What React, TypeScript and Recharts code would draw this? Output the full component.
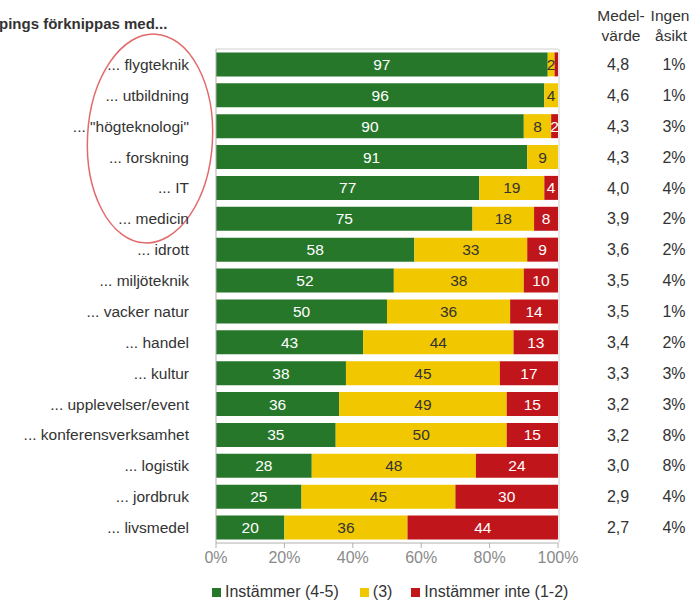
import React from 'react';
import { BarChart, Bar, XAxis, YAxis, LabelList, Legend, Customized } from 'recharts';

const categories = [
  '... flygteknik', '... utbildning', '... "högteknologi"', '... forskning', '... IT', '... medicin',
  '... idrott', '... miljöteknik', '... vacker natur', '... handel', '... kultur',
  '... upplevelser/event', '... konferensverksamhet', '... logistik', '... jordbruk', '... livsmedel',
];
const agree = [97, 96, 90, 91, 77, 75, 58, 52, 50, 43, 38, 36, 35, 28, 25, 20];
const neutral = [2, 4, 8, 9, 19, 18, 33, 38, 36, 44, 45, 49, 50, 48, 45, 36];
const disagree = [1, 0, 2, 0, 4, 8, 9, 10, 14, 13, 17, 15, 15, 24, 30, 44];
const meanValues = ['4,8', '4,6', '4,3', '4,3', '4,0', '3,9', '3,6', '3,5', '3,5', '3,4', '3,3', '3,2', '3,2', '3,0', '2,9', '2,7'];
const noOpinion = ['1%', '1%', '3%', '2%', '4%', '2%', '2%', '4%', '1%', '2%', '3%', '3%', '8%', '8%', '4%', '4%'];
const xTicks = [0, 20, 40, 60, 80, 100];
const seriesNames = ['Instämmer (4-5)', '(3)', 'Instämmer inte (1-2)'];

const GREEN = '#27772b';
const YELLOW = '#f1c700';
const RED = '#c0161b';
const FONT = '"Liberation Sans", Arial, sans-serif';

const data = categories.map((name, i) => ({
  name,
  agree: agree[i],
  neutral: neutral[i],
  disagree: disagree[i],
  mean: meanValues[i],
  none: noOpinion[i],
}));

const RightTick = (props: any) => {
  const { x, y, payload } = props;
  const idx = categories.indexOf(payload.value);
  return (
    <g>
      <text x={x + 60} y={y} dy="0.355em" textAnchor="middle" fill="#333" fontSize={16} fontFamily={FONT}>
        {meanValues[idx]}
      </text>
      <text x={x + 116} y={y} dy="0.355em" textAnchor="middle" fill="#333" fontSize={16} fontFamily={FONT}>
        {noOpinion[idx]}
      </text>
    </g>
  );
};

const Decorations = () => (
  <g>
    <text x={-1} y={24} dy="0.355em" fontWeight="bold" fontSize={15} fill="#333" fontFamily={FONT}>
      pings förknippas med...
    </text>
    <text x={621} y={15} dy="0.355em" textAnchor="middle" fontSize={15.5} fill="#333" fontFamily={FONT}>Medel-</text>
    <text x={621} y={35} dy="0.355em" textAnchor="middle" fontSize={15.5} fill="#333" fontFamily={FONT}>värde</text>
    <text x={670} y={15} dy="0.355em" textAnchor="middle" fontSize={15.5} fill="#333" fontFamily={FONT}>Ingen</text>
    <text x={671} y={35} dy="0.355em" textAnchor="middle" fontSize={15.5} fill="#333" fontFamily={FONT}>åsikt</text>
    <line x1={216} y1={49} x2={558} y2={49} stroke="#d0d0d0" strokeWidth={1} />
    <line x1={559} y1={49} x2={559} y2={543} stroke="#d0d0d0" strokeWidth={1} />
    <ellipse cx={150} cy={138.5} rx={62.5} ry={104.5} fill="none" stroke="#e26a6a" strokeWidth={1.5}
      transform="rotate(3 150 138.5)" />
  </g>
);

const LegendContent = () => {
  const colors = [GREEN, YELLOW, RED];
  return (
    <div style={{ display: 'flex', alignItems: 'center', fontFamily: FONT, fontSize: 16, color: '#333' }}>
      {seriesNames.map((n, i) => (
        <div key={n} style={{ display: 'flex', alignItems: 'center', marginRight: i === 0 ? 21 : i === 1 ? 19 : 0 }}>
          <span style={{ display: 'inline-block', width: 9, height: 9, background: colors[i], marginRight: 4 }} />
          <span>{n}</span>
        </div>
      ))}
    </div>
  );
};

const hideTiny = (v: any) => (Number(v) < 2 ? '' : v);

export default function App() {
  return (
    <div style={{ position: 'absolute', left: 0, top: 0, width: 697, height: 603, background: '#fff' }}>
      <BarChart
        width={697}
        height={603}
        data={data}
        layout="vertical"
        margin={{ top: 49, right: 0, bottom: 30, left: 0 }}
        barCategoryGap="11%"
        style={{ fontFamily: FONT }}
      >
        <XAxis
          type="number"
          domain={[0, 100]}
          ticks={xTicks}
          allowDataOverflow
          tickFormatter={(v: number) => `${v}%`}
          axisLine={{ stroke: '#b0b0b0' }}
          tickLine={{ stroke: '#b0b0b0' }}
          tickSize={5}
          tickMargin={4}
          height={30}
          tick={{ fill: '#8a8a8a', fontSize: 16 }}
        />
        <YAxis
          yAxisId="left"
          type="category"
          dataKey="name"
          width={216}
          tickSize={0}
          tickMargin={27}
          axisLine={{ stroke: '#b0b0b0' }}
          tickLine={false}
          interval={0}
          tick={{ fill: '#333', fontSize: 15.5 }}
        />
        <YAxis
          yAxisId="right"
          orientation="right"
          type="category"
          dataKey="name"
          width={139}
          tickSize={0}
          tickMargin={0}
          axisLine={false}
          tickLine={false}
          interval={0}
          tick={<RightTick />}
        />
        <Bar yAxisId="left" dataKey="agree" name={seriesNames[0]} stackId="a" fill={GREEN} isAnimationActive={false}>
          <LabelList dataKey="agree" position="center" fill="#fff" fontSize={15.5} />
        </Bar>
        <Bar yAxisId="left" dataKey="neutral" name={seriesNames[1]} stackId="a" fill={YELLOW} isAnimationActive={false}>
          <LabelList dataKey="neutral" position="center" fill="#333" fontSize={15.5} />
        </Bar>
        <Bar yAxisId="left" dataKey="disagree" name={seriesNames[2]} stackId="a" fill={RED} isAnimationActive={false}>
          <LabelList dataKey="disagree" position="center" fill="#fff" fontSize={15.5} formatter={hideTiny} />
        </Bar>
        <Legend
          layout="horizontal"
          verticalAlign="middle"
          align="center"
          wrapperStyle={{ top: 583, left: 212, width: 400, height: 20 }}
          content={<LegendContent />}
        />
        <Customized component={<Decorations />} />
      </BarChart>
    </div>
  );
}
